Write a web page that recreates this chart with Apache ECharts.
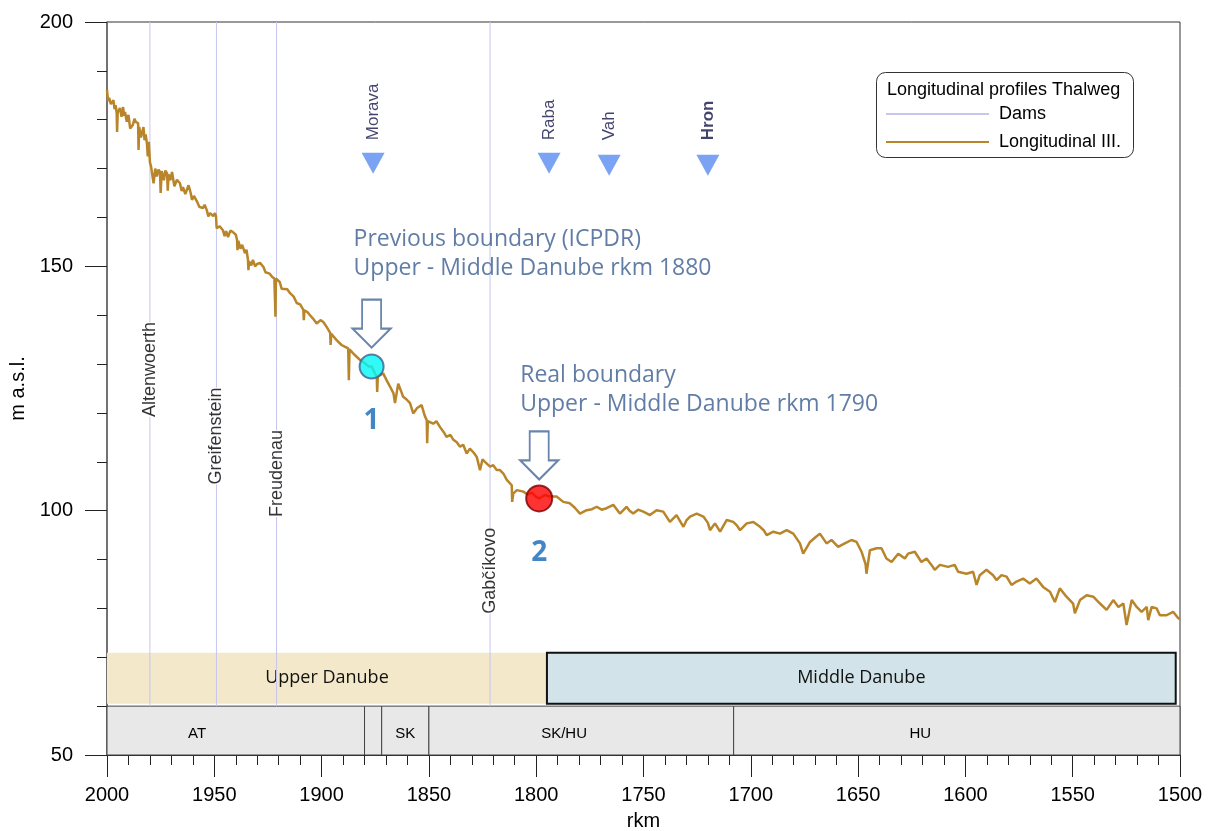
<!DOCTYPE html>
<html>
<head>
<meta charset="utf-8">
<script src="https://cdn.jsdelivr.net/npm/echarts@6/dist/echarts.min.js"></script>
<style>html,body{margin:0;padding:0;background:#fff;}#c{width:1209px;height:831px;}</style>
</head>
<body>
<div id="c"></div>
<script>
// ---- Data ----
const xTicks = [2000, 1950, 1900, 1850, 1800, 1750, 1700, 1650, 1600, 1550, 1500];
const yTicks = [50, 100, 150, 200];

const profileRkm = [2000,1999.5,1999,1998.2,1997,1996.5,1996,1995.5,1995.3,1995,1994,1993.2,1992.5,1992,1991.6,1990.8,1990,1989.2,1988,1987.2,1986.5,1985.5,1985.3,1985,1984.2,1983,1982.5,1982,1981.4,1981,1980.5,1980,1979.5,1978.6,1978.3,1977.5,1976.8,1976,1975.3,1975,1974.5,1973.5,1972.8,1972,1971.7,1971.3,1970.5,1969.7,1968.6,1967.4,1966,1965.2,1964.6,1963.5,1962,1961,1960.4,1959.5,1958,1957,1955.3,1954.5,1953.5,1952.8,1952,1950.5,1949.7,1949.2,1948.9,1947.5,1946,1945.2,1944.5,1943.6,1942.5,1941.3,1940,1939.4,1939.2,1938.8,1937.8,1937,1935.7,1935,1934.3,1934.1,1933.8,1932.8,1932,1931,1930,1928.7,1927,1926.2,1925.4,1924.2,1923,1922,1921.7,1921.5,1921.3,
1919.5,1918.6,1917.8,1916,1914.7,1913,1911.6,1910,1908.5,1908.3,1908,1906.5,1905.4,1904,1902.3,1900.5,1899.2,1897.5,1896,1895.8,1895.5,1893,1890.7,1889,1887.6,1887.3,1887,1885.5,1884.4,1882,1880,1878,1876.7,1875,1874.3,1874.1,1873.8,1871.3,1869.5,1868,1866.5,1865.8,1864.3,1863,1862,1860.5,1858.8,1857.3,1855.5,1853.4,1852,1851,1850.8,1850.5,1848,1846.5,1844.8,1843,1841.8,1840,1838.6,1837,1835.5,1834,1832.4,1830.9,1829,1827.7,1826.2,1825,1823.9,1821.5,1820,1818.4,1816.9,1815.3,1813.7,1813,1811.4,1811.2,1810.7,1809,1808.3,1806,1804,1802,1800,1798.6,1796,1793.6,1790.5,1787.4,1784.3,1782,1779.6,1776.5,1774,1771.8,1769.5,1767.2,1764.1,1761,1757.9,1756.5,1754.8,1752.5,1750.1,1747,1743.9,1740.8,1737.7,1734.6,1731.4,1730,1728.3,1725.2,1722.1,1720,1719,1716.7,1714.3,1711.2,1708.2,1706.5,1705,1701.9,1698.8,1695.7,1694,1692.6,1689.5,1686.4,1683.3,1680.2,1677.1,1675.6,1672.4,1670,1667.8,1664.7,1662.4,1659.3,1656.2,1653.1,1650.7,1648.4,1646.5,1646.1,1644.5,1641.4,1639.1,1636.8,1634.4,1631.3,1628.2,1626.7,1623.6,1620.5,1618.1,1616,1614.3,1611.9,1608.1,1605,1603.4,1599.5,1596.4,1594.8,1593.3,1590.2,1587.1,1585.5,1583.2,1580.8,1578.5,1576.2,1573.1,1570,1566.9,1563.8,1560.6,1558.3,1556,1552.9,1549.8,1549,1546.6,1543.5,1540.4,1537.3,1534.2,1531.1,1528.7,1526.4,1524.9,1522.5,1520.2,1517.9,1515.5,1514.8,1513.2,1510.9,1509.4,1506.3,1503.2,1500.8,1500];
const profileElev = [186.1,183.8,184.5,183.2,184,182.2,183,181.4,177.5,181.5,182.4,180.6,182.6,180.8,181.6,179.6,181,178.2,178.9,180.2,179.5,179.3,173.8,178.5,176.4,178.5,175.8,177,175.2,172.5,175.5,171.3,170.5,170.1,167,170,168.4,169.8,169.3,165,169.5,167.6,169.6,169,165.5,168.8,167.6,169.3,166.4,167.7,167,165.4,166.2,164.8,166.6,165,163.6,164.4,163.2,162.2,161.9,162.6,161.5,160.2,160.9,160.3,160.9,160.2,157.8,158.2,157.4,156.2,157.2,156,157.3,157,156.5,155.4,153.3,155.2,153.6,154.4,152.7,153.4,151.3,149.2,151,150.2,151.3,150,150.5,150.7,149.8,148.8,149.2,148.5,147.8,147.5,147.9,139.7,147.5,
146.8,145.4,145.8,145.3,144.5,143.8,142.5,142.2,141.1,139,141,140.6,140,139.3,138.3,139,138.6,137.5,136.4,133.9,136.2,134.9,133.9,133.5,133.2,126.7,133,132.3,131.8,130.8,130.2,129.5,129.5,128,127.4,124.3,127.5,128.1,126.5,125.3,124,122,126,124.5,123.3,122.8,122,119.9,121,121.6,119.5,118.5,113.8,118.3,117.8,118.3,117.1,116,115.1,115.5,114.5,114,113.1,113.5,111.7,112.7,111.8,111,108.3,110.5,110,109,109.3,108.3,108.3,107.6,106.3,105.9,105.2,101.8,103.5,104.2,104.5,103.9,103.3,103.7,102.8,102.5,103.2,102.9,102.9,101.8,101.5,100.6,99.4,100.1,100.3,100.8,100.2,100.5,101.2,99.4,100.8,100,99.4,100.2,99.8,99.1,100.1,99.8,97.7,99.1,96.7,98,98.8,99.4,98.8,97.5,96,97.4,95.7,98.1,97.7,97,96,97.4,97.7,96.7,96,95,95.7,95.3,96,95.3,93.3,91.2,93.6,94.5,95.3,93.3,94,92.6,93.3,94,93.6,91.6,89,87.1,91.9,92.3,92.3,90.2,89.5,91.2,90.2,91.2,91.6,89.5,90.2,89,87.9,88.9,88.5,88.9,87.5,87.1,87.5,84.8,86.8,87.9,86.8,85.8,86.8,86.5,84.8,85.5,86.1,85.1,86.1,84.4,83.4,81.3,84.1,82.4,81,79,81.7,82.7,82.4,81,79.7,81.7,80.3,81,76.6,81.7,80.3,79.3,80.3,77.6,80.3,80,78.6,78.6,79.3,78,77.8];

const damNames = ['Altenwoerth', 'Greifenstein', 'Freudenau', 'Gabčíkovo'];
const damRkm = [1980, 1949, 1921, 1821.5];
const damLabelElev = [129.1, 115.5, 107.8, 87.9];
const damLow = 60, damHigh = 200;

const tribNames = ['Morava', 'Raba', 'Vah', 'Hron'];
const tribRkm = [1876, 1794, 1766, 1720];
const tribElev = [171.1, 171.1, 170.7, 170.7];
const tribLabelElev = [175.4, 175.4, 175.4, 175.4];

const boundaryNums = ['1', '2'];
const boundaryRkm = [1876.7, 1798.6];
const boundaryElev = [129.5, 102.5];
const boundaryText = [
  ['Previous boundary (ICPDR)', 'Upper - Middle Danube rkm 1880'],
  ['Real boundary', 'Upper - Middle Danube rkm 1790']
];

const reachNames = ['Upper Danube', 'Middle Danube'];
const reachFrom = [2000, 1795];
const reachTo = [1795, 1502];
const reachLow = 60.5, reachHigh = 70.9;

const countryNames = ['AT', '', 'SK', 'SK/HU', 'HU'];
const countryFrom = [2000, 1880, 1872, 1850, 1708];
const countryTo = [1880, 1872, 1850, 1708, 1500];
const countryLabelRkm = [1958, null, 1861, 1787, 1621];
const countryLow = 50, countryHigh = 60;

// ---- Build ----
const FONT = '"Liberation Sans", Arial, sans-serif';
const SOFT = '"Open Sans", "Noto Sans", sans-serif';
const profileData = profileRkm.map((x, i) => [x, profileElev[i]]);
const damData = [];
damRkm.forEach(x => { damData.push([x, damLow], [x, damHigh], [x, '-']); });

const chart = echarts.init(document.getElementById('c'), null, {renderer: 'canvas'});

const arrowPath = 'path://M10,0 L30,0 L30,29 L40,29 L20,48 L0,29 L10,29 Z';

const option = {
  animation: false,
  backgroundColor: '#fff',
  grid: {left: 107, right: 29, top: 22, bottom: 76, outerBoundsMode: 'none', containLabel: false,
         show: true, borderColor: '#333', borderWidth: 1, backgroundColor: 'transparent'},
  xAxis: {
    type: 'value', inverse: true, min: 1500, max: 2000, interval: 50,
    name: 'rkm', nameLocation: 'middle', nameGap: 56,
    nameTextStyle: {fontFamily: FONT, fontSize: 20, color: '#000'},
    axisLine: {show: true, onZero: false, lineStyle: {color: '#222', width: 1}},
    axisTick: {show: true, length: 22, lineStyle: {color: '#222'}},
    minorTick: {show: true, splitNumber: 5, length: 10, lineStyle: {color: '#222'}},
    splitLine: {show: false},
    axisLabel: {fontFamily: FONT, fontSize: 20, color: '#000', margin: 30, showMinLabel: true, showMaxLabel: true,
                formatter: v => String(v)}
  },
  yAxis: {
    type: 'value', min: 50, max: 200, interval: 50,
    name: 'm a.s.l.', nameLocation: 'middle', nameGap: 76, nameRotate: 90,
    nameTextStyle: {fontFamily: FONT, fontSize: 20, color: '#000'},
    axisLine: {show: true, onZero: false, lineStyle: {color: '#666', width: 1.5}},
    axisTick: {show: true, length: 22, lineStyle: {color: '#222'}},
    minorTick: {show: true, splitNumber: 5, length: 10, lineStyle: {color: '#222'}},
    splitLine: {show: false},
    axisLabel: {fontFamily: FONT, fontSize: 20, color: '#000', margin: 34, formatter: v => String(v)}
  },
  legend: {
    orient: 'vertical', left: 880, top: 100, itemWidth: 103, itemHeight: 14, itemGap: 10,
    data: ['Dams', 'Longitudinal III.'],
    itemStyle: {opacity: 0},
    textStyle: {fontFamily: FONT, fontSize: 18, color: '#000', padding: [0, 0, 0, 5]},
    z: 10
  },
  graphic: [
    {type: 'rect', left: 876, top: 72, shape: {width: 257, height: 85, r: 9}, style: {fill: '#fff', stroke: '#333', lineWidth: 1}, z: 5},
    {type: 'text', left: 887, top: 81, style: {text: 'Longitudinal profiles Thalweg', font: '18px ' + FONT, fill: '#000'}, z: 6}
  ],
  series: [
    {
      name: 'countries', type: 'custom', z: 1, silent: true,
      data: countryNames.map((n, i) => [countryFrom[i], countryTo[i], countryLabelRkm[i], n]),
      renderItem: (params, api) => {
        const p1 = api.coord([api.value(0), countryHigh]);
        const p2 = api.coord([api.value(1), countryLow]);
        const lbl = countryNames[params.dataIndex];
        const lx = countryLabelRkm[params.dataIndex];
        const children = [{type: 'rect', shape: {x: p1[0], y: p1[1], width: p2[0] - p1[0], height: p2[1] - p1[1]}, style: {fill: '#e8e8e8', stroke: '#444', lineWidth: 1}}];
        if (lbl && lx != null) {
          const c = api.coord([lx, (countryLow + countryHigh) / 2]);
          children.push({type: 'text', x: c[0], y: c[1] + 3, style: {text: lbl, fill: '#000', font: '15px ' + FONT, align: 'center', verticalAlign: 'middle'}});
        }
        return {type: 'group', children};
      }
    },
    {
      name: 'reaches', type: 'custom', z: 1, silent: true,
      data: reachNames.map((n, i) => [reachFrom[i], reachTo[i], n]),
      renderItem: (params, api) => {
        const i = params.dataIndex;
        const p1 = api.coord([reachFrom[i], reachHigh]);
        const p2 = api.coord([reachTo[i], reachLow]);
        const c = api.coord([(reachFrom[i] + reachTo[i]) / 2, (reachLow + reachHigh) / 2]);
        const upper = i === 0;
        return {type: 'group', children: [
          {type: 'rect', shape: {x: p1[0], y: p1[1], width: p2[0] - p1[0], height: p2[1] - p1[1]},
           style: upper ? {fill: '#f3e8c9', stroke: null} : {fill: '#d2e4ea', stroke: '#111', lineWidth: 2}},
          {type: 'text', x: c[0], y: c[1], z2: 5, style: {text: reachNames[i], fill: '#111', font: '18px ' + SOFT, align: 'center', verticalAlign: 'middle'}}
        ]};
      }
    },
    {
      name: 'Dams', type: 'line', data: damData, symbol: 'none', z: 2, silent: true,
      lineStyle: {color: '#c6c6ef', width: 1}, itemStyle: {color: '#c6c6ef'}, connectNulls: false
    },
    {
      name: 'damLabels', type: 'scatter', symbolSize: 1, z: 3, silent: true,
      itemStyle: {color: 'transparent'},
      data: damNames.map((n, i) => ({name: n, value: [damRkm[i], damLabelElev[i]]})),
      label: {show: true, position: 'inside', rotate: 90, formatter: '{b}', fontFamily: FONT, fontSize: 18, color: '#000',
              backgroundColor: '#fff', align: 'center', verticalAlign: 'middle', offset: [-1, 0]}
    },
    {
      name: 'Longitudinal III.', type: 'line', data: profileData, symbol: 'none', z: 4,
      lineStyle: {color: '#b9852a', width: 2.5}, itemStyle: {color: '#b07d1f'}
    },
    {
      name: 'tributaries', type: 'scatter', symbol: 'triangle', symbolRotate: 180, symbolSize: [23, 21], z: 5, silent: true,
      itemStyle: {color: '#5a8cf0'},
      data: tribNames.map((n, i) => ({name: n, value: [tribRkm[i], tribElev[i]]}))
    },
    {
      name: 'tribLabels', type: 'scatter', symbolSize: 1, z: 5, silent: true,
      itemStyle: {color: 'transparent'},
      data: tribNames.map((n, i) => ({name: n, value: [tribRkm[i], tribLabelElev[i]],
        label: {fontWeight: i === 3 ? 'bold' : 'normal'}})),
      label: {show: true, position: 'inside', rotate: 90, formatter: '{b}', fontFamily: FONT, fontSize: 17, color: '#14144a',
              align: 'left', verticalAlign: 'middle', offset: [2, 0]}
    },
    {
      name: 'arrows', type: 'scatter', symbol: arrowPath, symbolSize: [38, 48], symbolOffset: [0, -43], z: 6, silent: true,
      itemStyle: {color: '#fff', borderColor: '#44679a', borderWidth: 2},
      data: boundaryRkm.map((x, i) => [x, boundaryElev[i]])
    },
    {
      name: 'boundaries', type: 'scatter', symbol: 'circle', z: 7, silent: true,
      data: boundaryRkm.map((x, i) => ({value: [x, boundaryElev[i]], symbolSize: i === 0 ? 24 : 26,
        itemStyle: i === 0 ? {color: '#00f7f7', borderColor: '#3f5e8c', borderWidth: 2} : {color: '#ff0000', borderColor: '#7a0000', borderWidth: 2}}))
    },
    {
      name: 'boundaryNums', type: 'scatter', symbolSize: 1, z: 7, silent: true,
      itemStyle: {color: 'transparent'},
      data: boundaryRkm.map((x, i) => ({name: boundaryNums[i], value: [x, boundaryElev[i]]})),
      label: {show: true, position: 'inside', formatter: '{b}', fontFamily: SOFT, fontSize: 28, fontWeight: 'bold', color: '#1468b8',
              align: 'center', verticalAlign: 'middle', offset: [0, 55]}
    },
    {
      name: 'boundaryText', type: 'scatter', symbolSize: 1, z: 7, silent: true,
      itemStyle: {color: 'transparent'},
      data: boundaryRkm.map((x, i) => ({name: boundaryText[i].join('\n'), value: [x, boundaryElev[i]],
        label: {offset: i === 0 ? [-18, -113] : [-19, -108]}})),
      label: {show: true, position: 'inside', formatter: '{b}', fontFamily: SOFT, fontSize: 23, color: '#3a5d90',
              lineHeight: 29, align: 'left', verticalAlign: 'middle'}
    }
  ]
};
chart.setOption(option);
</script>
</body>
</html>
